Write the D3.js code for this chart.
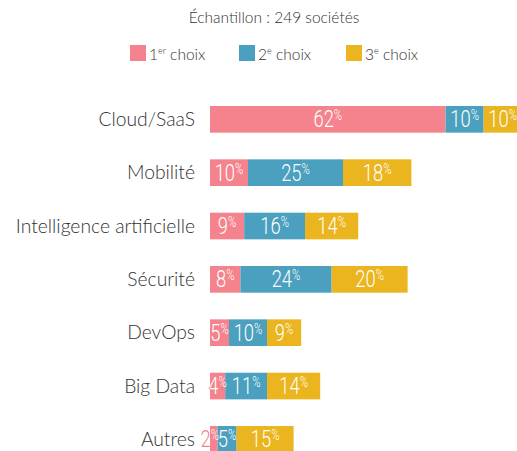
<!DOCTYPE html>
<html>
<head>
<meta charset="utf-8">
<script src="https://cdn.jsdelivr.net/npm/d3@7"></script>
<style>
  body { margin: 0; background: #fff; }
  svg { display: block; }
  .cat { font-family: Lato, "Noto Sans", sans-serif; font-weight: 300; font-size: 19.3px; fill: #333; }
  .title { font-family: Lato, "Noto Sans", sans-serif; font-weight: 300; font-size: 15.5px; fill: #333; }
  .legend text { font-family: Lato, "Noto Sans", sans-serif; font-weight: 300; font-size: 15.5px; fill: #333; }
  .val { font-family: Roboto, "DejaVu Sans Condensed", sans-serif; font-weight: 300; font-size: 24.5px; }
</style>
</head>
<body>
<svg width="517" height="451"></svg>
<script>
const svg = d3.select('svg');

// data
const categories = ['Cloud/SaaS', 'Mobilité', 'Intelligence artificielle', 'Sécurité', 'DevOps', 'Big Data', 'Autres'];
const choix1 = [62, 10, 9, 8, 5, 4, 2];
const choix2 = [10, 25, 16, 24, 10, 11, 5];
const choix3 = [10, 18, 14, 20, 9, 14, 15];
const seriesNames = [['1', 'er', ' choix'], ['2', 'e', ' choix'], ['3', 'e', ' choix']];
const colors = ['#f4838d', '#4aa0be', '#ebb51f'];

const rows = categories.map((c, i) => ({ cat: c, c1: choix1[i], c2: choix2[i], c3: choix3[i] }));
const stack = d3.stack().keys(['c1', 'c2', 'c3'])(rows);

const x = d3.scaleLinear().domain([0, 100]).range([210, 590]);
const y = d3.scaleBand().domain(categories).range([106, 452.7]).paddingInner(0.5).paddingOuter(0);

// title
svg.append('text')
    .attr('class', 'title')
    .attr('x', 274)
    .attr('y', 23)
    .attr('text-anchor', 'middle')
    .text('Échantillon : 249 sociétés');

// legend
const legendX = [130, 239, 346];
const legend = svg.append('g').attr('class', 'legend');
seriesNames.forEach((s, i) => {
    const g = legend.append('g').attr('transform', `translate(${legendX[i]},45)`);
    g.append('rect').attr('width', 16).attr('height', 16).attr('fill', colors[i]);
    const t = g.append('text').attr('x', 19).attr('y', 15);
    t.append('tspan').text(s[0]);
    t.append('tspan').attr('font-size', '9px').attr('dy', -6).text(s[1]);
    t.append('tspan').attr('dy', 6).text(s[2]);
});

// category labels
svg.selectAll('.cat')
    .data(categories)
    .enter()
    .append('text')
        .attr('class', 'cat')
        .attr('x', 195)
        .attr('y', d => y(d) + y.bandwidth() / 2)
        .attr('dy', '0.35em')
        .attr('text-anchor', 'end')
        .text(d => d);

// clip per row so labels are white inside the bars, colored outside
const defs = svg.append('defs');
rows.forEach((r, i) => {
    defs.append('clipPath').attr('id', 'clip' + i)
        .append('rect')
        .attr('x', x(0))
        .attr('y', y(r.cat))
        .attr('width', x(r.c1 + r.c2 + r.c3) - x(0))
        .attr('height', y.bandwidth());
});

// condensed look: squeeze the label horizontally around its centre
// (labels wider than a tiny segment get nudged left a bit, like the original)
const labelX = d => {
    const w = x(d[1]) - x(d[0]);
    const cx = (x(d[0]) + x(d[1])) / 2;
    return w < 12 ? cx - 4 : cx;
};
const addLabel = (sel, fill) => {
    const t = sel.append('text')
        .attr('class', 'val')
        .attr('fill', fill)
        .attr('text-anchor', 'middle')
        .attr('transform', d => `translate(${labelX(d)},${y(d.data.cat) + y.bandwidth() / 2 + 8}) scale(0.75,1)`);
    t.append('tspan').text(d => d[1] - d[0]);
    t.append('tspan').attr('font-size', '15px').attr('dy', -7).text('%');
};

// colored labels underneath
stack.forEach((s, k) => {
    const g = svg.append('g');
    addLabel(g.selectAll('text').data(s).enter(), colors[k]);
});

// bars
stack.forEach((s, k) => {
    svg.append('g')
        .attr('fill', colors[k])
        .selectAll('rect')
        .data(s)
        .enter()
        .append('rect')
            .attr('x', d => x(d[0]))
            .attr('y', d => y(d.data.cat))
            .attr('width', d => x(d[1]) - x(d[0]))
            .attr('height', y.bandwidth());
});

// white labels clipped to bars
stack.forEach((s, k) => {
    const g = svg.append('g');
    g.selectAll('g')
        .data(s)
        .enter()
        .append('g')
            .attr('clip-path', (d, i) => `url(#clip${i})`)
            .call(sel => addLabel(sel, '#fff'));
});
</script>
</body>
</html>
